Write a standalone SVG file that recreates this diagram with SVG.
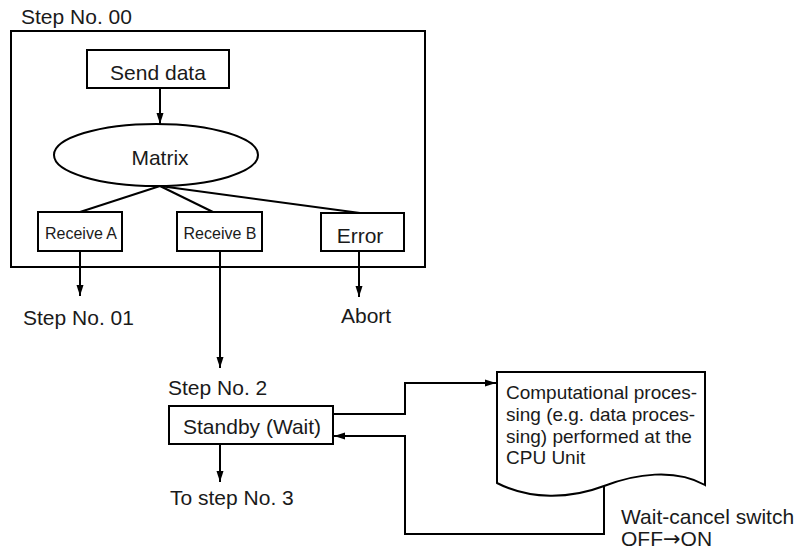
<svg xmlns="http://www.w3.org/2000/svg" width="808" height="552" viewBox="0 0 808 552">
<style>
text{font-family:"Liberation Sans",Arial,sans-serif;fill:#1a1a1a;font-size:21px}
.sm{font-size:16px}
.doc{font-size:19px}
.arr{font-family:"DejaVu Sans",sans-serif}
.box{fill:#fff;stroke:#000;stroke-width:2}
.ln{fill:none;stroke:#000;stroke-width:2}
</style>
<defs>
<marker id="ah" markerUnits="userSpaceOnUse" markerWidth="11" markerHeight="8" refX="11" refY="4" orient="auto">
<path d="M0,0.5 L11,4 L0,7.5 Z" fill="#000"/>
</marker>
</defs>
<g id="step00">
<rect class="box" x="11" y="31" width="414" height="236" fill="none"/>
<text x="21" y="24">Step No. 00</text>
</g>
<g id="send">
<rect class="box" x="87" y="50" width="142" height="38"/>
<text x="158" y="80" text-anchor="middle">Send data</text>
</g>
<g id="matrix">
<ellipse class="box" cx="156" cy="155" rx="102" ry="31"/>
<text x="160" y="165" text-anchor="middle">Matrix</text>
</g>
<g id="recvA">
<rect class="box" x="38" y="212" width="84" height="39"/>
<text class="sm" x="81" y="239" text-anchor="middle">Receive A</text>
</g>
<g id="recvB">
<rect class="box" x="177" y="212" width="85" height="39"/>
<text class="sm" x="220" y="239" text-anchor="middle">Receive B</text>
</g>
<g id="error">
<rect class="box" x="321" y="213" width="83" height="38"/>
<text x="360" y="243" text-anchor="middle">Error</text>
</g>
<g id="step01"><text x="23" y="325">Step No. 01</text></g>
<g id="abort"><text x="341" y="323">Abort</text></g>
<g id="standby">
<text x="168" y="395">Step No. 2</text>
<rect class="box" x="169" y="406" width="164" height="38"/>
<text x="183" y="434">Standby (Wait)</text>
</g>
<g id="step3"><text x="170" y="505">To step No. 3</text></g>
<g id="cpu">
<path class="box" d="M497,372 L705,372 L705,485 C675,468 635,474 604,486 C570,499 530,500 497,483 Z"/>
<text class="doc" x="506" y="399">Computational proces-</text>
<text class="doc" x="506" y="421">sing (e.g. data proces-</text>
<text class="doc" x="506" y="443">sing) performed at the</text>
<text class="doc" x="506" y="464">CPU Unit</text>
</g>
<g id="switch">
<text x="621" y="524">Wait-cancel switch</text>
<text x="621" y="546">OFF<tspan class="arr">→</tspan>ON</text>
</g>
<g id="connectors">
<path class="ln" d="M160,88 L160,124" marker-end="url(#ah)"/>
<path class="ln" d="M160,186 L80,212"/>
<path class="ln" d="M160,186 L213,212"/>
<path class="ln" d="M160,186 L360,213"/>
<path class="ln" d="M80,251 L80,296" marker-end="url(#ah)"/>
<path class="ln" d="M220,251 L220,368" marker-end="url(#ah)"/>
<path class="ln" d="M359,251 L359,297" marker-end="url(#ah)"/>
<path class="ln" d="M220,444 L220,482" marker-end="url(#ah)"/>
<path class="ln" d="M333,414 L405,414 L405,383 L496,383" marker-end="url(#ah)"/>
<path class="ln" d="M604,486 L604,534 L405,534 L405,436 L334,436" marker-end="url(#ah)"/>
</g>
</svg>
